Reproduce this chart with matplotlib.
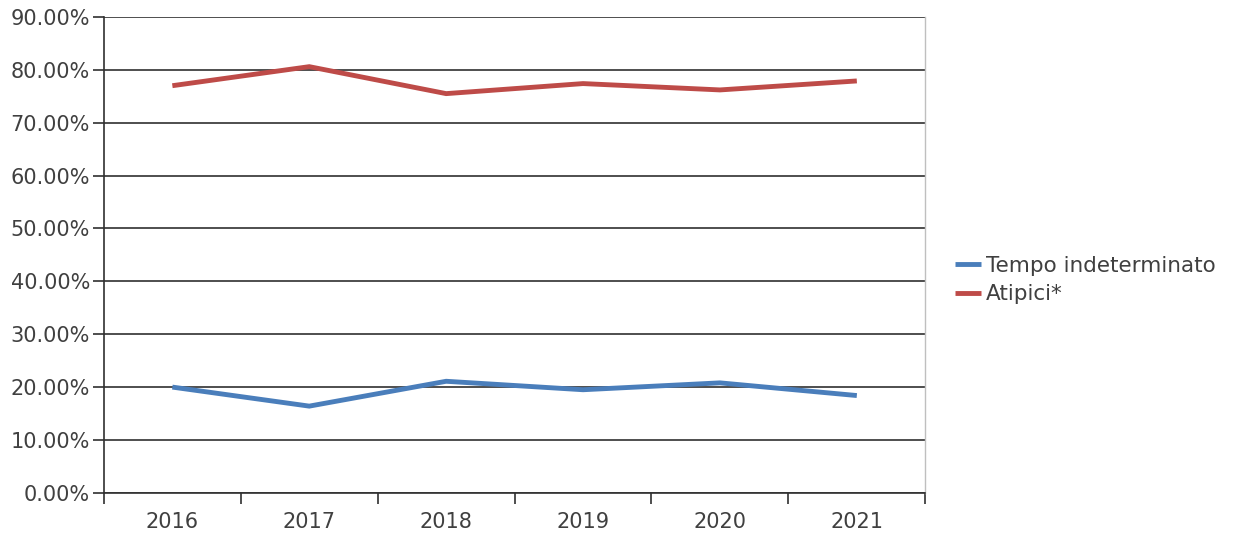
import matplotlib.pyplot as plt
from matplotlib.ticker import FixedLocator, NullFormatter

years = ["2016", "2017", "2018", "2019", "2020", "2021"]
tempo_indeterminato = [20.0, 16.4, 21.1, 19.5, 20.8, 18.4]
atipici = [77.0, 80.6, 75.5, 77.4, 76.2, 77.9]
y_ticks = [0, 10, 20, 30, 40, 50, 60, 70, 80, 90]

text_color = "#404040"
plt.rcParams["font.family"] = ["DejaVu Sans"]

fig = plt.figure(figsize=(12.37, 5.47), dpi=100)
ax = fig.add_axes([0.084, 0.099, 0.664, 0.870])

x = list(range(len(years)))
ax.plot(x, tempo_indeterminato, color="#4a7ebb", lw=3.5, label="Tempo indeterminato",
        solid_joinstyle="miter", solid_capstyle="butt")
ax.plot(x, atipici, color="#be4b48", lw=3.5, label="Atipici*",
        solid_joinstyle="miter", solid_capstyle="butt")

ax.set_xlim(-0.5, len(years) - 0.5)
ax.set_ylim(0, 90)

ax.set_yticks(y_ticks)
ax.set_yticklabels([f"{v:.2f}%" for v in y_ticks])
ax.yaxis.grid(True, color="#303030", lw=1.2)
ax.set_axisbelow(True)

ax.set_xticks(x)
ax.set_xticklabels(years)
ax.tick_params(axis="x", which="major", length=0, pad=14, labelsize=15, colors=text_color)
ax.xaxis.set_minor_locator(FixedLocator([i - 0.5 for i in range(len(years) + 1)]))
ax.xaxis.set_minor_formatter(NullFormatter())
ax.tick_params(axis="x", which="minor", length=8, width=1.2, color="#303030")
ax.tick_params(axis="y", length=8, width=1.2, color="#303030", labelsize=15,
               labelcolor=text_color, pad=2)

for side in ["left", "bottom"]:
    ax.spines[side].set_color("#303030")
    ax.spines[side].set_linewidth(1.2)
ax.spines["top"].set_visible(False)
ax.spines["right"].set_color("#bfbfbf")
ax.spines["right"].set_linewidth(1.0)

leg = fig.legend(loc="center left", bbox_to_anchor=(0.772, 0.488), frameon=False,
                 fontsize=15.5, handlelength=1.2, handletextpad=0.25, labelspacing=0.38,
                 borderaxespad=0, borderpad=0)
for t in leg.get_texts():
    t.set_color(text_color)

fig.savefig("out.png", dpi=100, facecolor="white")
